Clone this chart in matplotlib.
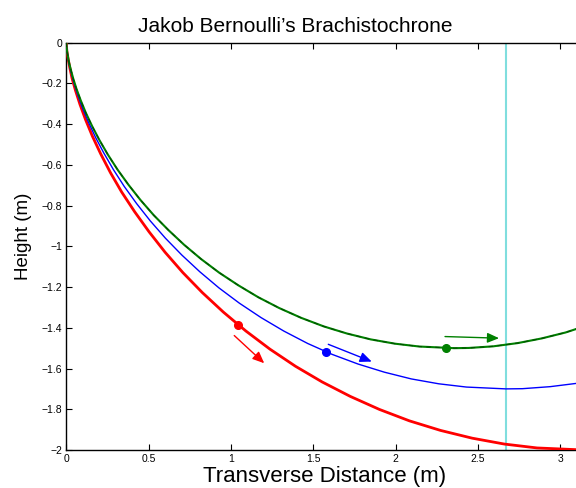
import matplotlib
matplotlib.use("Agg")
import matplotlib.pyplot as plt

plt.rcParams['font.family'] = ['Liberation Sans', 'DejaVu Sans']

# curve points
red_x = [0, 0.000, 0.001, 0.004, 0.011, 0.021, 0.035, 0.056, 0.083, 0.117,
	0.159, 0.209, 0.268, 0.336, 0.415, 0.503, 0.600, 0.708, 0.826, 0.954,
	1.091, 1.237, 1.392, 1.554, 1.725, 1.902, 2.084, 2.273, 2.465, 2.661,
	2.859, 3.142]
red_y = [0, -0.005, -0.020, -0.045, -0.079, -0.122, -0.175, -0.235, -0.303,
	-0.378, -0.460, -0.546, -0.638, -0.733, -0.830, -0.929, -1.029, -1.129,
	-1.227, -1.323, -1.416, -1.505, -1.589, -1.666, -1.737, -1.801, -1.857,
	-1.904, -1.942, -1.971, -1.990, -2.000]

blue_x = [0, 0.000, 0.001, 0.004, 0.009, 0.017, 0.030, 0.047, 0.070, 0.099,
	0.135, 0.177, 0.228, 0.286, 0.352, 0.427, 0.510, 0.602, 0.702, 0.811,
	0.927, 1.051, 1.183, 1.321, 1.466, 1.616, 1.772, 1.932, 2.095, 2.262,
	2.430, 2.670, 2.770, 2.939, 3.107, 3.141]
blue_y = [0, -0.004, -0.017, -0.038, -0.067, -0.104, -0.148, -0.200, -0.258,
	-0.322, -0.391, -0.464, -0.542, -0.623, -0.706, -0.790, -0.875, -0.960,
	-1.043, -1.125, -1.204, -1.279, -1.350, -1.416, -1.477, -1.531, -1.578,
	-1.618, -1.651, -1.675, -1.691, -1.700, -1.699, -1.689, -1.672, -1.667]

green_x = [0, 0.000, 0.001, 0.003, 0.008, 0.015, 0.027, 0.042, 0.062, 0.088,
	0.119, 0.157, 0.201, 0.252, 0.311, 0.377, 0.450, 0.531, 0.620, 0.715,
	0.818, 0.928, 1.044, 1.166, 1.293, 1.426, 1.563, 1.704, 1.849, 1.996,
	2.144, 2.356, 2.444, 2.593, 2.742, 2.888, 3.032, 3.172]
green_y = [0, -0.004, -0.015, -0.033, -0.059, -0.092, -0.131, -0.176, -0.227,
	-0.284, -0.345, -0.410, -0.478, -0.549, -0.623, -0.697, -0.772, -0.847,
	-0.920, -0.992, -1.062, -1.129, -1.191, -1.250, -1.303, -1.351, -1.393,
	-1.428, -1.457, -1.478, -1.492, -1.500, -1.499, -1.491, -1.475, -1.452,
	-1.423, -1.386]

# bead positions and velocity arrows (start, end)
beads = {'red': (1.045, -1.386), 'blue': (1.575, -1.517), 'green': (2.308, -1.500)}
arrows = {
	'red': ((1.020, -1.438), (1.202, -1.574)),
	'blue': ((1.591, -1.481), (1.855, -1.566)),
	'green': ((2.300, -1.443), (2.628, -1.451)),
}
marker_x = 2.670

fig = plt.figure(figsize=(5.76, 4.88), dpi=100)
ax = fig.add_axes([0.1151, 0.0779, 0.8981, 0.8346])

ax.axvline(marker_x, color='#80dede', linewidth=1.5, zorder=1)
ax.plot(red_x, red_y, color='#ff0000', linewidth=2.0, zorder=3)
ax.plot(blue_x, blue_y, color='#0000ff', linewidth=1.0, zorder=3)
ax.plot(green_x, green_y, color='#008000', linewidth=1.5, zorder=3)
ax.plot(green_x, green_y, color='#005000', linewidth=0.8, linestyle=(0, (4, 4)),
	zorder=3)

colors = {'red': '#ff0000', 'blue': '#0000ff', 'green': '#008000'}
for name, (bx, by) in beads.items():
	ax.plot(bx, by, 'o', color=colors[name], markersize=5.5, zorder=4)
	(sx, sy), (ex, ey) = arrows[name]
	ax.annotate('', xy=(ex, ey), xytext=(sx, sy),
		arrowprops=dict(arrowstyle='-|>,head_length=0.7,head_width=0.3',
			color=colors[name], linewidth=1.0, shrinkA=0, shrinkB=0),
		zorder=4)

ax.set_xlim(0, 3.1416)
ax.set_ylim(-2, 0)
ax.set_xticks([0, 0.5, 1, 1.5, 2, 2.5, 3])
ax.set_xticklabels(['0', '0.5', '1', '1.5', '2', '2.5', '3'])
ax.set_yticks([-2, -1.8, -1.6, -1.4, -1.2, -1, -0.8, -0.6, -0.4, -0.2, 0])
ax.set_yticklabels(['\u22122', '\u22121.8', '\u22121.6', '\u22121.4', '\u22121.2',
	'\u22121', '\u22120.8', '\u22120.6', '\u22120.4', '\u22120.2', '0'])
ax.tick_params(direction='in', length=4, width=0.8, labelsize=7.5,
	top=True, right=True, pad=3)
for s in ax.spines.values():
	s.set_linewidth(1.0)

ax.set_title('Jakob Bernoulli\u2019s Brachistochrone', fontsize=15, x=0.442,
	pad=8)
ax.set_xlabel('Transverse Distance (m)', fontsize=16, labelpad=1.5)
ax.set_ylabel('Height (m)', fontsize=13.5)
ax.yaxis.set_label_coords(-0.066, 0.525)

fig.savefig('out.png', dpi=100)
